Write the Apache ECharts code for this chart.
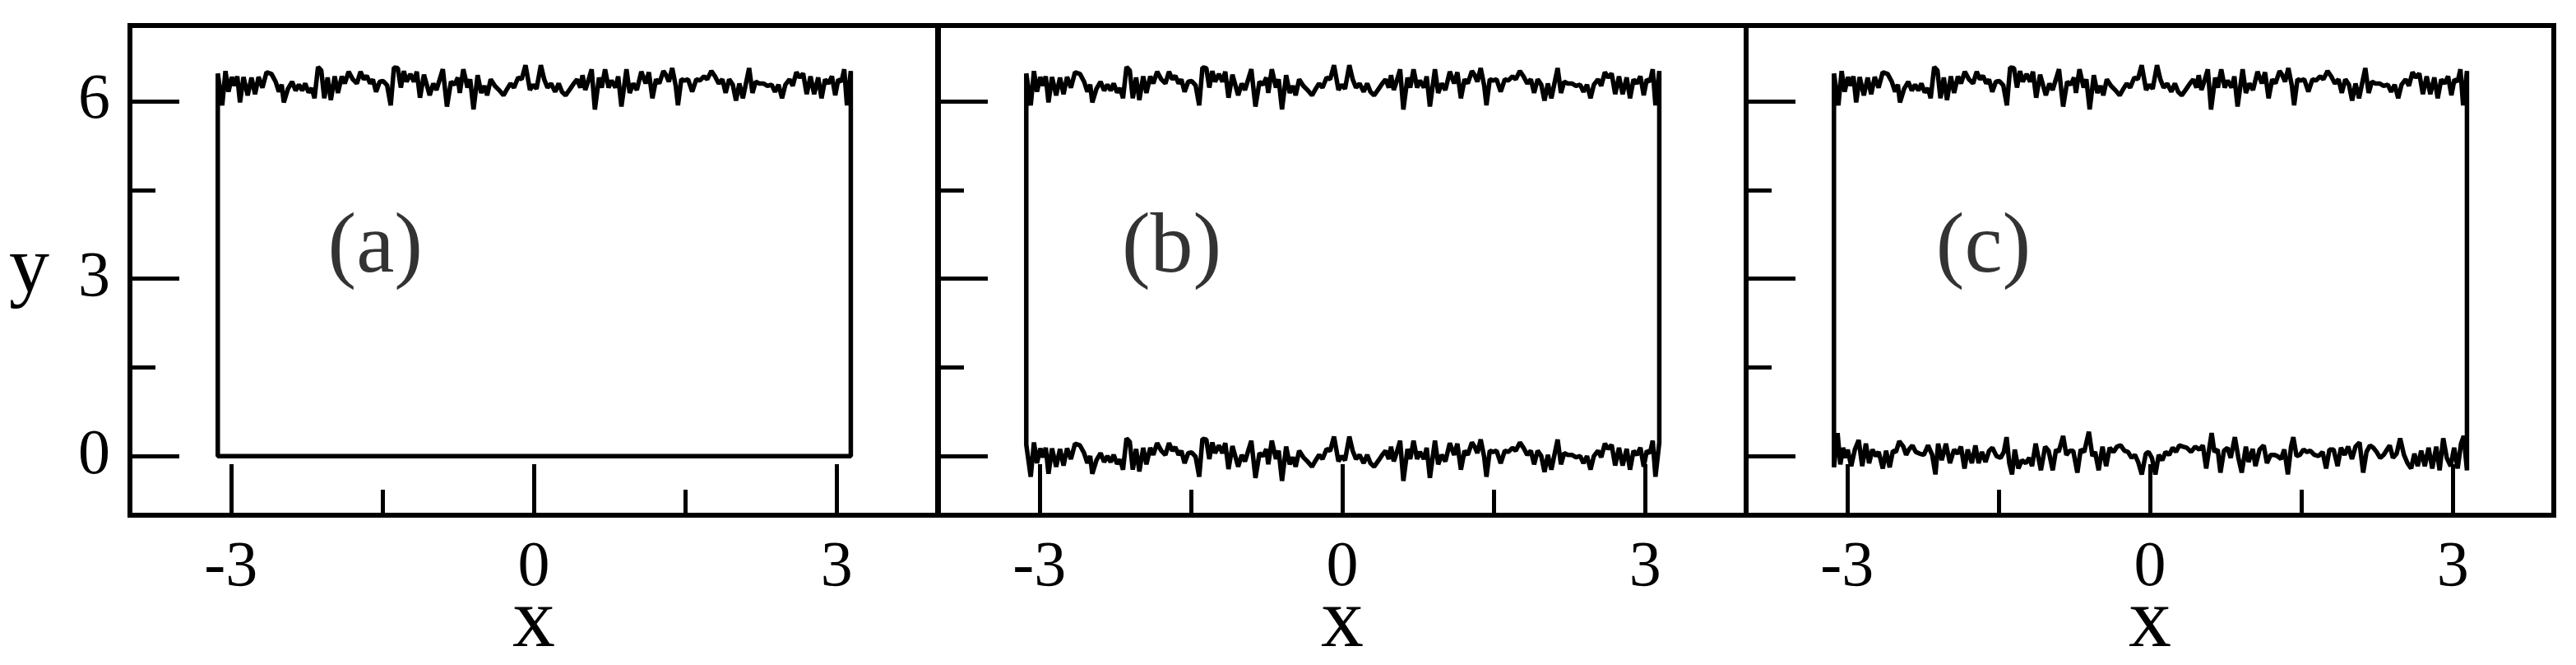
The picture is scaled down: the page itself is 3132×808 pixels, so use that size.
<!DOCTYPE html>
<html>
<head>
<meta charset="utf-8">
<script src="https://cdn.jsdelivr.net/npm/echarts@6/dist/echarts.min.js"></script>
<style>
html, body { margin: 0; padding: 0; background: #fff; }
#main { width: 3132px; height: 808px; }
</style>
</head>
<body>
<div id="main"></div>
<script>
// upper edge of the loop; panels (b) and (c) show the same edge
var topEdge = [
  [-3.13,6.47],[-3.086,5.93],[-3.054,6.51],[-3.024,6.16],[-2.991,6.41],[-2.964,6.26],[-2.937,6.42],[-2.910,5.98],
  [-2.875,6.41],[-2.834,6.10],[-2.796,6.40],[-2.761,6.12],[-2.726,6.41],[-2.688,6.23],[-2.647,6.49],[-2.598,6.46],
  [-2.557,6.33],[-2.525,6.16],[-2.497,6.28],[-2.476,5.98],[-2.435,6.21],[-2.394,6.33],[-2.359,6.18],[-2.326,6.28],
  [-2.294,6.18],[-2.264,6.30],[-2.231,6.15],[-2.199,6.22],[-2.172,6.05],[-2.137,6.58],[-2.105,6.52],[-2.075,6.05],
  [-2.042,6.40],[-2.010,6.02],[-1.972,6.42],[-1.940,6.14],[-1.902,6.42],[-1.872,6.30],[-1.834,6.50],[-1.793,6.37],
  [-1.752,6.30],[-1.716,6.50],[-1.684,6.37],[-1.654,6.43],[-1.621,6.30],[-1.594,6.37],[-1.562,6.16],[-1.526,6.33],
  [-1.491,6.34],[-1.453,6.27],[-1.417,5.93],[-1.385,6.57],[-1.347,6.56],[-1.317,6.23],[-1.287,6.51],[-1.260,6.33],
  [-1.222,6.46],[-1.187,6.33],[-1.159,6.50],[-1.127,6.06],[-1.088,6.45],
  [-1.031,6.10],[-0.996,6.30],[-0.964,6.19],[-0.901,6.54],[-0.860,5.91],[-0.820,6.33],[-0.784,6.28],[-0.752,6.40],
  [-0.733,6.14],[-0.698,6.54],[-0.657,6.23],[-0.630,6.37],[-0.597,5.86],[-0.556,6.44],[-0.521,6.14],[-0.489,6.26],
  [-0.462,6.10],[-0.427,6.37],[-0.386,6.26],[-0.345,6.19],[-0.300,6.10],[-0.263,6.21],[-0.230,6.30],[-0.196,6.23],
  [-0.155,6.40],[-0.120,6.37],[-0.082,6.61],[-0.038,6.19],[-0.006,6.28],[0.027,6.21],[0.070,6.61],[0.103,6.37],
  [0.136,6.23],[0.171,6.30],[0.212,6.16],[0.247,6.30],[0.279,6.16],[0.315,6.10],[0.361,6.21],[0.396,6.30],
  [0.429,6.37],[0.461,6.23],[0.483,6.44],[0.510,6.19],[0.537,6.33],[0.573,6.54],[0.605,5.86],[0.646,6.40],
  [0.673,6.23],[0.706,6.54],[0.741,6.23],[0.769,6.35],[0.809,6.23],[0.836,6.42],[0.868,5.91],[0.918,6.54],
  [0.950,6.14],[0.985,6.30],[1.021,6.19],[1.065,6.50],
  [1.108,6.30],[1.140,6.49],[1.175,6.05],[1.211,6.37],[1.243,6.30],[1.284,6.51],[1.311,6.44],[1.338,6.33],
  [1.371,6.56],[1.406,6.26],[1.428,5.93],[1.461,6.37],[1.493,6.35],[1.528,6.37],[1.569,6.16],[1.610,6.37],
  [1.645,6.35],[1.686,6.42],[1.718,6.37],[1.759,6.51],[1.795,6.42],[1.832,6.30],[1.868,6.37],[1.900,6.14],
  [1.935,6.37],[1.971,6.28],[2.003,6.01],[2.036,6.30],[2.071,6.05],[2.133,6.56],[2.166,6.14],[2.198,6.33],
  [2.234,6.30],[2.274,6.30],[2.315,6.26],[2.356,6.28],[2.389,6.16],[2.424,6.28],[2.459,6.05],[2.492,6.28],
  [2.533,6.37],[2.565,6.26],[2.601,6.49],[2.633,6.40],[2.668,6.47],[2.703,6.12],[2.741,6.42],[2.777,6.12],
  [2.817,6.40],[2.850,6.05],[2.885,6.37],[2.918,6.30],[2.953,6.42],[2.986,6.10],[3.016,6.37],[3.048,6.33],
  [3.075,6.54],[3.102,5.93],[3.14,6.51]
];

// lower edge of panel (a): flat
var lowA = [[-3.13, 0], [3.14, 0]];

// lower edge of panel (b) is the upper edge one period lower (same wiggles in the picture)
var PERIOD = 6.28;

// lower edge of panel (c)
var lowC = [
  [-3.13,-0.19],[-3.094,0.39],[-3.067,-0.14],[-3.040,0.14],[-3.013,-0.03],[-2.994,0.11],[-2.959,-0.17],[-2.923,0.11],
  [-2.885,0.27],[-2.850,-0.17],[-2.814,0.21],[-2.782,-0.12],[-2.749,0.11],[-2.715,0.00],[-2.687,0.07],[-2.646,-0.21],
  [-2.614,0.09],[-2.578,-0.19],[-2.546,0.09],[-2.516,0.07],[-2.483,0.25],[-2.443,0.16],[-2.415,0.02],[-2.388,0.11],
  [-2.353,0.18],[-2.320,0.07],[-2.279,0.04],[-2.239,0.02],[-2.198,0.18],[-2.157,0.02],[-2.125,-0.31],[-2.098,0.21],
  [-2.062,-0.07],[-2.021,0.21],[-1.981,-0.12],[-1.940,0.11],[-1.905,0.04],[-1.872,0.16],[-1.837,-0.21],[-1.805,0.11],
  [-1.764,-0.12],[-1.729,0.18],[-1.697,-0.12],[-1.664,0.07],[-1.629,-0.10],[-1.593,0.09],[-1.561,0.14],[-1.520,0.00],
  [-1.480,-0.03],[-1.447,0.07],[-1.420,0.32],[-1.393,-0.12],[-1.366,-0.31],[-1.339,0.11],[-1.303,-0.21],[-1.268,-0.07],
  [-1.230,-0.12],[-1.195,-0.03],[-1.168,-0.17],[-1.132,0.21],[-1.080,-0.24],[-1.038,0.16],[-1.004,0.09],[-0.963,-0.24],
  [-0.930,0.11],[-0.904,0.07],[-0.860,0.34],[-0.828,0.02],[-0.795,0.09],[-0.760,0.09],[-0.719,-0.28],[-0.686,0.11],
  [-0.651,0.07],[-0.605,0.41],[-0.570,0.00],[-0.543,0.07],[-0.508,-0.24],[-0.470,0.16],[-0.434,-0.17],[-0.399,0.14],
  [-0.361,0.07],[-0.326,0.16],[-0.290,0.18],[-0.253,0.09],[-0.217,0.07],[-0.182,-0.03],[-0.149,0.02],[-0.117,-0.10],
  [-0.081,-0.31],[-0.041,0.04],[-0.014,0.07],[0.019,-0.03],[0.054,-0.31],[0.087,0.02],[0.122,-0.07],[0.155,0.07],
  [0.190,0.02],[0.225,0.14],[0.258,0.07],[0.290,0.18],[0.326,0.16],[0.366,0.14],[0.407,0.07],[0.448,0.16],
  [0.489,0.11],[0.524,0.18],[0.557,-0.21],[0.584,0.09],[0.611,0.39],[0.638,0.07],[0.671,0.11],[0.698,-0.28],
  [0.733,0.09],[0.768,0.14],[0.800,-0.03],[0.841,0.32],[0.876,-0.03],[0.909,-0.28],[0.950,0.16],[0.977,-0.10],
  [1.018,0.12],[1.045,-0.17],[1.086,0.11],[1.127,0.18],[1.159,-0.12],[1.195,0.02],[1.230,0.02],[1.262,0.00],
  [1.298,-0.05],[1.331,0.11],[1.366,-0.31],[1.398,0.16],[1.420,0.32],[1.452,0.00],[1.485,0.02],[1.520,0.11],
  [1.555,0.07],[1.588,0.09],[1.629,0.02],[1.669,0.00],[1.710,0.07],[1.745,-0.21],[1.778,0.11],[1.819,0.11],
  [1.859,-0.17],[1.892,0.14],[1.928,0.02],[1.963,0.16],[2.001,-0.05],[2.036,0.16],[2.076,0.23],[2.112,-0.28],
  [2.145,0.07],[2.179,0.18],[2.212,0.14],[2.245,0.07],[2.280,-0.03],[2.315,0.02],[2.348,0.11],[2.375,0.18],
  [2.407,-0.03],[2.443,0.04],[2.478,0.30],[2.516,0.02],[2.551,-0.12],[2.587,-0.21],[2.619,0.04],[2.652,-0.17],
  [2.687,0.09],[2.722,-0.17],[2.760,0.14],[2.796,-0.21],[2.836,0.16],[2.869,-0.24],[2.905,0.30],[2.940,-0.03],
  [2.978,-0.17],[3.013,0.14],[3.048,-0.21],[3.081,0.21],[3.108,0.34],[3.14,-0.24]
];

var panelNames = ['(a)', '(b)', '(c)'];
var panelLabelX = [-1.57, -1.69, -1.65];
var panelLabelY = 3.5;

var xMajor = [-3, 0, 3];
var xMinor = [-1.5, 1.5];
var yMajor = [0, 3, 6];
var yMinor = [1.5, 4.5];

var X_MIN = -4, X_MAX = 4, Y_MIN = -1, Y_MAX = 7.28;

var lowB = topEdge.map(function (p) { return [p[0], +(p[1] - PERIOD).toFixed(2)]; });
var lowEdges = [lowA, lowB, lowC];

var myChart = echarts.init(document.getElementById('main'));

var FONT = 'Liberation Serif, Times New Roman, serif';
var gridLefts = [158, 1141, 2123];
var grids = [], xAxes = [], yAxes = [], series = [];

for (var i = 0; i < 3; i++) {
    grids.push({
        left: gridLefts[i], top: 31, width: 982, height: 595,
        outerBoundsMode: 'none', containLabel: false,
        show: true, borderColor: '#000', borderWidth: 6, backgroundColor: 'transparent'
    });

    // major x ticks, with labels
    xAxes.push({
        type: 'value', gridIndex: i, min: X_MIN, max: X_MAX, position: 'bottom',
        name: 'x', nameLocation: 'middle', nameGap: 80, nameMoveOverlap: false,
        nameTextStyle: { fontFamily: FONT, fontSize: 104, color: '#000' },
        axisLine: { show: false, onZero: false },
        axisTick: { show: true, inside: true, length: 62, customValues: xMajor, lineStyle: { color: '#000', width: 5 } },
        axisLabel: { show: true, customValues: xMajor, margin: 26, fontFamily: FONT, fontSize: 78, color: '#000' },
        splitLine: { show: false }
    });
    // minor x ticks
    xAxes.push({
        type: 'value', gridIndex: i, min: X_MIN, max: X_MAX, position: 'bottom',
        axisLine: { show: false, onZero: false },
        axisTick: { show: true, inside: true, length: 31, customValues: xMinor, lineStyle: { color: '#000', width: 5 } },
        axisLabel: { show: false },
        splitLine: { show: false }
    });

    yAxes.push({
        type: 'value', gridIndex: i, min: Y_MIN, max: Y_MAX, position: 'left',
        name: i === 0 ? 'y' : '', nameLocation: 'middle', nameGap: 98, nameRotate: 0, nameMoveOverlap: false,
        nameTextStyle: { fontFamily: FONT, fontSize: 98, color: '#000', padding: [0, 0, 50, 0] },
        axisLine: { show: false, onZero: false },
        axisTick: { show: true, inside: true, length: 60, customValues: yMajor, lineStyle: { color: '#000', width: 5 } },
        axisLabel: { show: i === 0, customValues: yMajor, margin: 24, fontFamily: FONT, fontSize: 78, color: '#000' },
        splitLine: { show: false }
    });
    yAxes.push({
        type: 'value', gridIndex: i, min: Y_MIN, max: Y_MAX, position: 'left',
        axisLine: { show: false, onZero: false },
        axisTick: { show: true, inside: true, length: 31, customValues: yMinor, lineStyle: { color: '#000', width: 5 } },
        axisLabel: { show: false },
        splitLine: { show: false }
    });

    // closed loop: upper edge left to right, lower edge right to left
    var loop = topEdge.concat(lowEdges[i].slice().reverse()).concat([topEdge[0]]);
    series.push({
        type: 'line', xAxisIndex: 2 * i, yAxisIndex: 2 * i,
        data: loop, showSymbol: false, symbol: 'none', clip: false,
        lineStyle: { color: '#000', width: 5.5 }, silent: true
    });
    series.push({
        type: 'scatter', xAxisIndex: 2 * i, yAxisIndex: 2 * i,
        data: [[panelLabelX[i], panelLabelY]], symbolSize: 0, silent: true,
        label: {
            show: true, position: 'inside', formatter: panelNames[i],
            fontFamily: FONT, fontSize: 104, color: '#000'
        }
    });
}

var option = {
    backgroundColor: '#fff',
    animation: false,
    grid: grids,
    xAxis: xAxes,
    yAxis: yAxes,
    series: series
};

myChart.setOption(option);
</script>
</body>
</html>
